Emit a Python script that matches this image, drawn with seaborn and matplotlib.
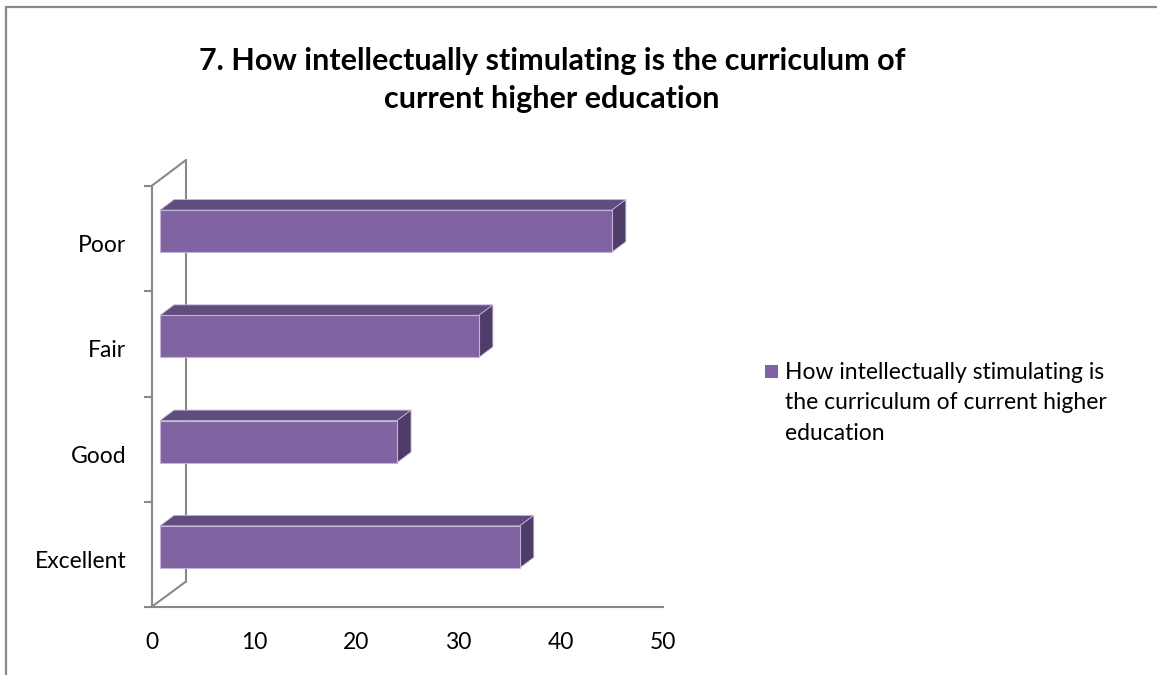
import numpy as np
import pandas as pd
import matplotlib
matplotlib.use("Agg")
import matplotlib.pyplot as plt
import seaborn as sns
from matplotlib.patches import Polygon, Rectangle
from matplotlib.lines import Line2D
from matplotlib.transforms import ScaledTranslation

# ---- data ----
categories = ["Poor", "Fair", "Good", "Excellent"]
values = [45, 32, 24, 36]
xticks = [0, 10, 20, 30, 40, 50]
title = "7. How intellectually stimulating is the curriculum of\ncurrent higher education"
series_name = "How intellectually stimulating is\nthe curriculum of current higher\neducation"

# ---- style ----
W, H = 1157, 675
FRONT = "#8064A2"
TOP = "#604C7E"
SIDE = "#4F3D69"
EDGE = "#C2B4D6"
AXC = "#888888"
TICK_FS = 16.5

sns.set_theme(style="white")
plt.rcParams["font.family"] = ["Lato", "DejaVu Sans"]

fig = plt.figure(figsize=(W / 100, H / 100), dpi=100)
fig.patch.set_facecolor("white")

x0p, x1p = 151.5, 663.0
ytp, ybp = 186.0, 607.0
ax = fig.add_axes([x0p / W, 1 - ybp / H, (x1p - x0p) / W, (ybp - ytp) / H])

df = pd.DataFrame({"category": categories, "value": values})
sns.barplot(data=df, y="category", x="value", orient="h", color=FRONT,
            saturation=1, width=0.4, ax=ax, zorder=3)
ax.set_xlim(0, 50)
ax.set_ylim(len(categories) - 0.5, -0.5)

# pixel -> data unit conversions
pxx = 50 / (x1p - x0p)
pxy = len(categories) / (ybp - ytp)

# 3D geometry (style constants, pixels)
face_h = 42 * pxy
shift_up = 7.5 * pxy
left_off = 8.5 * pxx
ddx = 14 * pxx
ddy = 10.5 * pxy

for i, (p, v) in enumerate(zip(ax.patches, values)):
    yc = i - shift_up
    ytop = yc - face_h / 2
    ybot = yc + face_h / 2
    p.set_x(left_off)
    p.set_width(v - left_off)
    p.set_y(ytop)
    p.set_height(face_h)
    p.set_edgecolor(EDGE)
    p.set_linewidth(0.8)
    xr = v
    top = Polygon([(left_off, ytop), (xr, ytop), (xr + ddx, ytop - ddy),
                   (left_off + ddx, ytop - ddy)], closed=True,
                  facecolor=TOP, edgecolor=EDGE, lw=0.6, zorder=2, clip_on=False)
    side = Polygon([(xr, ytop), (xr + ddx, ytop - ddy), (xr + ddx, ybot - ddy),
                    (xr, ybot)], closed=True,
                   facecolor=SIDE, edgecolor=EDGE, lw=0.6, zorder=2, clip_on=False)
    ax.add_patch(top)
    ax.add_patch(side)

# back wall + floor edges
wall_dx = (186 - x0p) * pxx
wall_dy_top = 26 * pxy
wall_dy_bot = 25.5 * pxy
ylo, yhi = -0.5, len(categories) - 0.5
lw_ax = 1.5
for xs, ys in [([wall_dx, wall_dx], [ylo - wall_dy_top, yhi - wall_dy_bot]),
               ([0, wall_dx], [ylo, ylo - wall_dy_top]),
               ([0, wall_dx], [yhi, yhi - wall_dy_bot])]:
    ax.add_line(Line2D(xs, ys, color=AXC, lw=lw_ax, clip_on=False, zorder=1))

# spines
for s in ["top", "right"]:
    ax.spines[s].set_visible(False)
for s in ["left", "bottom"]:
    ax.spines[s].set_visible(True)
    ax.spines[s].set_color(AXC)
    ax.spines[s].set_linewidth(lw_ax)

# ticks
ax.set_xticks(xticks)
ax.set_xticklabels([str(t) for t in xticks], fontsize=TICK_FS, color="black")
ax.tick_params(axis="x", direction="out", length=6, width=1.5, color=AXC, pad=12)
ax.set_yticks(np.arange(-0.5, len(categories), 1.0))
ax.set_yticklabels([])
ax.set_yticks(np.arange(len(categories)), minor=True)
ax.set_yticklabels(categories, minor=True, fontsize=TICK_FS, color="black")
ax.tick_params(axis="y", which="major", direction="out", length=6, width=1.5, color=AXC, left=True)
ax.tick_params(axis="y", which="minor", length=0, pad=18, left=True)
for lab in ax.get_yticklabels(minor=True):
    lab.set_transform(lab.get_transform() + ScaledTranslation(0, -5 / 100, fig.dpi_scale_trans))
ax.set_xlabel("")
ax.set_ylabel("")
ax.grid(False)
ax.set_facecolor("none")

# title
fig.text(552 / W, 1 - 80 / H, title, ha="center", va="center", fontsize=22,
         fontweight="bold", color="black", linespacing=1.45)

# legend (manual)
fig.add_artist(Rectangle((765 / W, 1 - 378 / H), 13 / W, 13 / H, transform=fig.transFigure,
                         facecolor=FRONT, edgecolor="none"))
fig.text(785 / W, 1 - 362 / H, series_name, ha="left", va="top", fontsize=16.5,
         color="black", linespacing=1.55)

# outer chart frame
fig.add_artist(Rectangle((6 / W, -0.1), 1.2, 1.1 - 7 / H, transform=fig.transFigure,
                         fill=False, edgecolor=AXC, lw=1.6))

fig.savefig("out.png", dpi=100)
